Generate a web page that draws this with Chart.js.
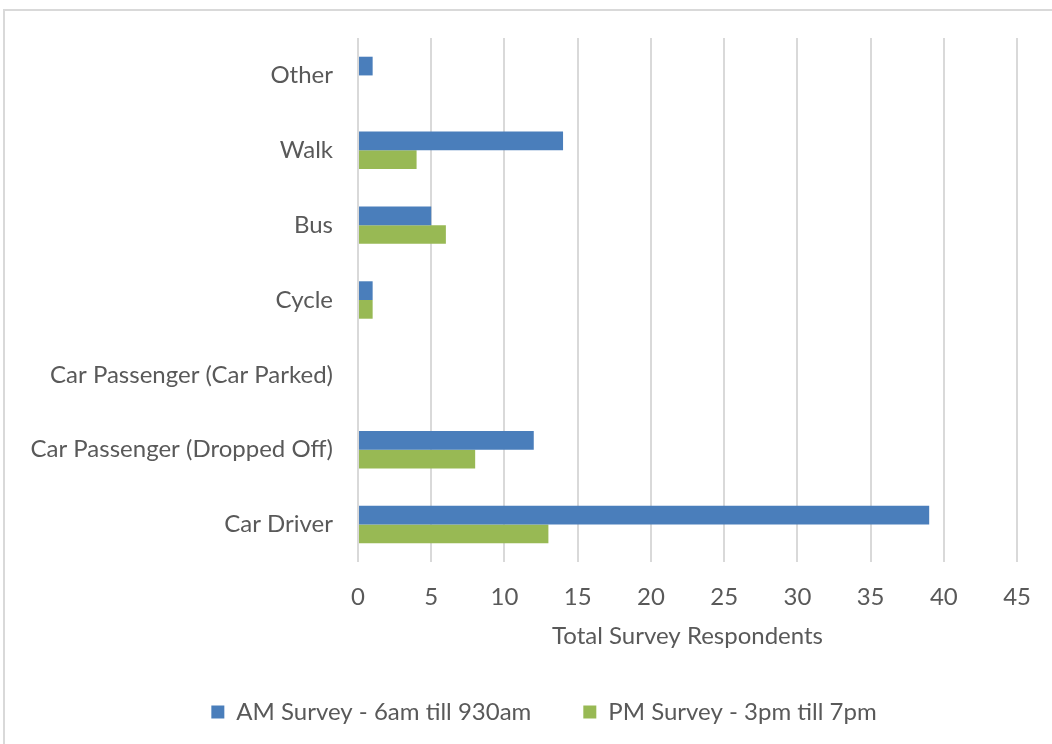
<!DOCTYPE html>
<html>
<head>
<meta charset="utf-8">
<script src="https://cdn.jsdelivr.net/npm/chart.js@4"></script>
<style>
  body { margin: 0; background: #fff; }
  #wrap { position: relative; width: 1052px; height: 744px; overflow: hidden; }
  #frame { position: absolute; left: 3px; top: 9px; width: 1060px; height: 760px; border: 2px solid #d9d9d9; box-sizing: border-box; }
  canvas { position: absolute; left: 0; top: 0; }
</style>
</head>
<body>
<div id="wrap">
  <div id="frame"></div>
  <canvas id="modeChart" width="1052" height="744"></canvas>
</div>
<script>
const categories = ['Other', 'Walk', 'Bus', 'Cycle', 'Car Passenger (Car Parked)', 'Car Passenger (Dropped Off)', 'Car Driver'];
const amValues = [1, 14, 5, 1, 0, 12, 39];
const pmValues = [0, 4, 6, 1, 0, 8, 13];
const amLabel = 'AM Survey - 6am till 930am';
const pmLabel = 'PM Survey - 3pm till 7pm';
const axisTitle = 'Total Survey Respondents';

const fontFamily = 'Lato, "Open Sans", sans-serif';

// nudge the legend right so it sits centred like the original
const legendShift = {
  id: 'legendShift',
  afterLayout(chart) {
    if (chart.legend) chart.legend.left += 56;
  }
};

const ctx = document.getElementById('modeChart').getContext('2d');
new Chart(ctx, {
  type: 'bar',
  data: {
    labels: categories,
    datasets: [
      { label: amLabel, data: amValues, backgroundColor: '#4a7ebb', categoryPercentage: 0.5, barPercentage: 1.0 },
      { label: pmLabel, data: pmValues, backgroundColor: '#98b954', categoryPercentage: 0.5, barPercentage: 1.0 }
    ]
  },
  options: {
    indexAxis: 'y',
    responsive: false,
    animation: false,
    layout: { padding: { top: 38, right: 20, bottom: 10, left: 0 } },
    plugins: {
      legend: {
        position: 'bottom',
        labels: {
          color: '#595959',
          font: { family: fontFamily, size: 24 },
          boxWidth: 13,
          boxHeight: 13,
          padding: 52
        }
      },
      tooltip: { enabled: false }
    },
    scales: {
      x: {
        min: 0,
        max: 45,
        ticks: { stepSize: 5, color: '#595959', font: { family: fontFamily, size: 24 }, padding: 21 },
        grid: { color: '#d9d9d9', lineWidth: 2, drawTicks: false },
        border: { display: false },
        title: { display: true, text: axisTitle, color: '#595959', font: { family: fontFamily, size: 24 }, padding: { top: 8, bottom: -3 } },
        afterFit: s => { s.height = 86; }
      },
      y: {
        ticks: { color: '#595959', font: { family: fontFamily, size: 24 }, padding: 17 },
        grid: { display: false },
        border: { display: false },
        afterFit: s => { s.width = 358; }
      }
    }
  },
  plugins: [legendShift]
});
</script>
</body>
</html>
